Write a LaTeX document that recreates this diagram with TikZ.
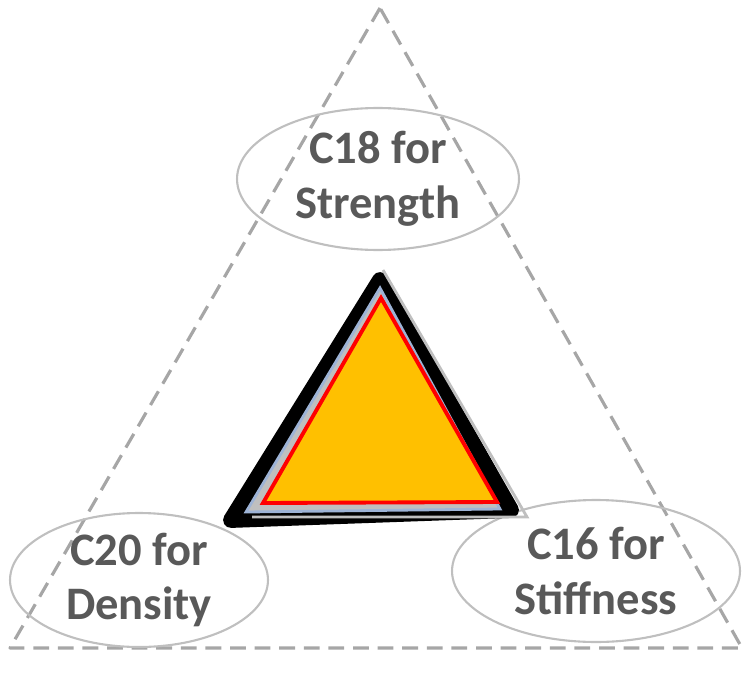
\documentclass[tikz,border=0pt]{standalone}
\usepackage{fontspec}
\setsansfont{Carlito}
\usetikzlibrary{shapes.geometric}
\definecolor{textgray}{HTML}{595959}
\definecolor{ringgray}{HTML}{BFBFBF}
\definecolor{dashgray}{HTML}{A6A6A6}
\definecolor{coreorange}{HTML}{FFC000}
\definecolor{edgeblue}{HTML}{9DB3D6}

\begin{document}
\begin{tikzpicture}[x=0.02cm, y=-0.02cm,
  factor/.style={draw=ringgray, line width=1.2pt, ellipse, align=center,
                 font=\sffamily\bfseries\fontsize{26.5}{31}\selectfont, text=textgray,
                 inner sep=0pt},
  frame/.style={draw=dashgray, line width=1.8pt, dash pattern=on 9pt off 5pt,
                line join=round},
]

\useasboundingbox (0,0) rectangle (746,672);

% outer dashed frame
\coordinate (top) at (380,8);
\coordinate (left) at (10,648);
\coordinate (right) at (742,648);
\draw[frame] (top) -- (left) -- (right) -- cycle;

% the three grades
\node[factor, minimum width=5.64cm, minimum height=2.84cm] (strength) at (378,179) {C18 for\\Strength};
\node[factor, minimum width=5.16cm, minimum height=2.68cm] (density) at (139,580) {C20 for\\Density};
\node[factor, minimum width=5.76cm, minimum height=2.84cm] (stiffness) at (596,571) {C16 for\\Stiffness};

% inner triangle
\coordinate (ia) at (380,280);
\coordinate (ib) at (231,520);
\coordinate (ic) at (511,510);
\draw[black, line width=9pt, line join=round] (ia) -- (ib) -- (ic) -- cycle;
\draw[ringgray, line width=1.6pt] (383,270) -- (527,517) -- (252,517);
\draw[edgeblue, line width=1.6pt, fill=ringgray] (380,288) -- (246,512) -- (500,509) -- cycle;
\draw[red, line width=2.2pt, fill=coreorange, line join=miter] (381,298) -- (263,503) -- (497,502) -- cycle;

\end{tikzpicture}
\end{document}
